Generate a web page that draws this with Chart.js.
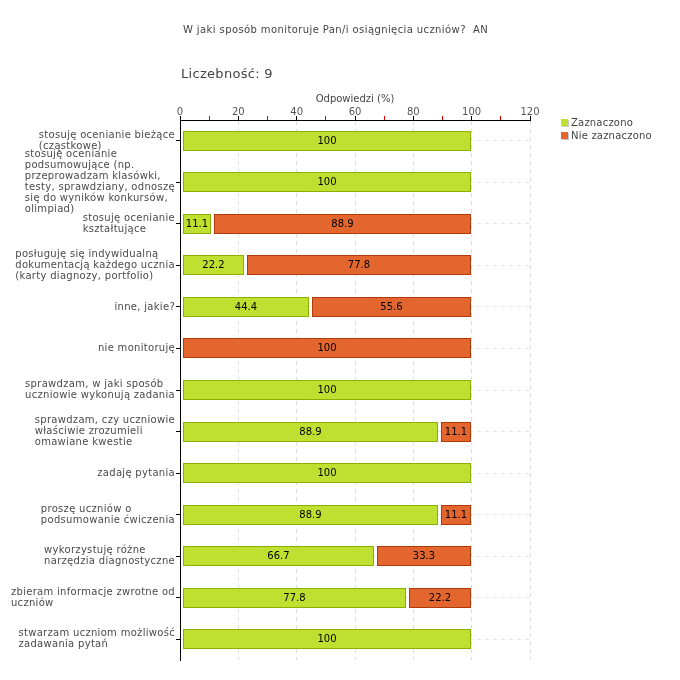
<!DOCTYPE html>
<html><head><meta charset="utf-8">
<script src="https://cdn.jsdelivr.net/npm/chart.js@4"></script>
<style>html,body{margin:0;padding:0;background:#fff}</style>
</head><body>
<canvas id="c" width="680" height="680" style="display:block"></canvas>
<script>
const categories = [
 ["stosuję ocenianie bieżące","(cząstkowe)"],
 ["stosuję ocenianie","podsumowujące (np.","przeprowadzam klasówki,","testy, sprawdziany, odnoszę","się do wyników konkursów,","olimpiad)"],
 ["stosuję ocenianie","kształtujące"],
 ["posługuję się indywidualną","dokumentacją każdego ucznia","(karty diagnozy, portfolio)"],
 ["inne, jakie?"],
 ["nie monitoruję"],
 ["sprawdzam, w jaki sposób","uczniowie wykonują zadania"],
 ["sprawdzam, czy uczniowie","właściwie zrozumieli","omawiane kwestie"],
 ["zadaję pytania"],
 ["proszę uczniów o","podsumowanie ćwiczenia"],
 ["wykorzystuję różne","narzędzia diagnostyczne"],
 ["zbieram informacje zwrotne od","uczniów"],
 ["stwarzam uczniom możliwość","zadawania pytań"]
];
const zaznaczono    = [100,100,11.1,22.2,44.4,0,100,88.9,100,88.9,66.7,77.8,100];
const nieZaznaczono = [0,0,88.9,77.8,55.6,100,0,11.1,0,11.1,33.3,22.2,0];
const seriesNames = ["Zaznaczono","Nie zaznaczono"];
const xTickLabels = [0,20,40,60,80,100,120];
const titleText = "W jaki sposób monitoruje Pan/i osiągnięcia uczniów?  AN";
const countText = "Liczebność: 9";
const axisTitle = "Odpowiedzi (%)";

const FONT = "'DejaVu Sans', Verdana, sans-serif";
const GREEN = '#bfe030', GREEN_B = '#8cb000';
const ORANGE = '#e3662f', ORANGE_B = '#b13a0b';

// inset each stacked segment slightly so that segments are separated by a small gap
const gapPlugin = {
  id: 'gap',
  afterDatasetsUpdate(chart) {
    chart.data.datasets.forEach((ds, i) => {
      chart.getDatasetMeta(i).data.forEach(el => {
        const lo = Math.min(el.x, el.base), hi = Math.max(el.x, el.base);
        el.y = Math.round(el.y);
        if (hi - lo > 3) {
          el.base = Math.round(lo) + 2;
          el.x = Math.round(hi) - 1;
        }
      });
    });
  }
};

const drawPlugin = {
  id: 'drawExtras',
  afterDatasetsDraw(chart) {
    const ctx = chart.ctx;
    ctx.save();
    ctx.font = '10px ' + FONT;
    ctx.fillStyle = '#000';
    ctx.textAlign = 'center';
    ctx.textBaseline = 'middle';
    chart.data.datasets.forEach((ds, i) => {
      chart.getDatasetMeta(i).data.forEach((el, j) => {
        const v = ds.data[j];
        if (!v) return;
        ctx.fillText(String(v), (el.x + el.base) / 2, el.y + 0.5);
      });
    });
    ctx.restore();
  },
  afterDraw(chart) {
    const ctx = chart.ctx;
    ctx.save();
    ctx.fillStyle = '#444';
    ctx.textBaseline = 'middle';
    ctx.textAlign = 'left';
    ctx.font = '10px ' + FONT;
    ctx.letterSpacing = '0.4px';
    ctx.fillText(titleText, 183, 30);
    ctx.font = '13px ' + FONT;
    ctx.letterSpacing = '0.3px';
    ctx.fillText(countText, 181, 75);
    // y labels: blocks left-aligned, right edge next to the axis ticks
    const ys = chart.scales.y;
    ctx.font = '10px ' + FONT;
    ctx.letterSpacing = '0.3px';
    ctx.fillStyle = '#4a4a4a';
    const lh = 11;
    categories.forEach((lines, i) => {
      const yc = ys.getPixelForTick(i);
      const w = Math.max(...lines.map(l => ctx.measureText(l).width));
      const x0 = 175 - w;
      const y0 = yc - (lines.length - 1) * lh / 2;
      lines.forEach((l, k) => ctx.fillText(l, x0, y0 + k * lh));
    });
    // legend
    const cols = [[GREEN, 123], [ORANGE, 136]];
    ctx.letterSpacing = '0.2px';
    cols.forEach(([c, y], k) => {
      ctx.fillStyle = '#c8c8c8';
      ctx.fillRect(562, y - 3, 7, 7);
      ctx.fillStyle = c;
      ctx.fillRect(561, y - 4, 7, 7);
      ctx.fillStyle = '#444';
      ctx.font = '10px ' + FONT;
      ctx.fillText(seriesNames[k], 571, y);
    });
    ctx.restore();
  }
};

new Chart(document.getElementById('c'), {
  type: 'bar',
  data: {
    labels: categories,
    datasets: [
      { label: seriesNames[0], data: zaznaczono, backgroundColor: GREEN, borderColor: GREEN_B, borderWidth: 1, borderSkipped: false, barThickness: 20, inflateAmount: 0 },
      { label: seriesNames[1], data: nieZaznaczono, backgroundColor: ORANGE, borderColor: ORANGE_B, borderWidth: 1, borderSkipped: false, barThickness: 20, inflateAmount: 0 }
    ]
  },
  options: {
    indexAxis: 'y',
    responsive: false,
    animation: false,
    events: [],
    layout: { padding: { top: 80, left: 0, right: 150, bottom: 20 } },
    plugins: { legend: { display: false }, title: { display: false }, tooltip: { enabled: false } },
    scales: {
      x: {
        position: 'top', stacked: true, min: 0, max: 120,
        afterFit: s => { s.height = 40; },
        ticks: {
          stepSize: 10, autoSkip: false, maxRotation: 0, padding: -2,
          color: '#555', font: { family: FONT, size: 10 },
          callback: v => xTickLabels.includes(v) ? String(v) : ''
        },
        grid: {
          color: c => (c.tick && c.tick.value % 20 === 0 && c.tick.value !== 0) ? '#dcdcdc' : 'rgba(0,0,0,0)',
          tickColor: c => (c.tick && c.tick.value % 20 === 0) ? '#000' : '#e00000',
          tickLength: 4, lineWidth: 1
        },
        border: { color: '#000', width: 1, dash: [4, 4] },
        title: { display: true, text: axisTitle, color: '#444', font: { family: FONT, size: 10 }, padding: { top: 13, bottom: 0 } }
      },
      y: {
        stacked: true,
        afterFit: s => { s.width = 180; },
        ticks: { display: false },
        grid: { offset: false, color: '#e6e6e6', tickColor: '#000', tickLength: 4, lineWidth: 1 },
        border: { color: '#000', width: 1, dash: [4, 4] }
      }
    }
  },
  plugins: [gapPlugin, drawPlugin]
});
</script>
</body></html>
